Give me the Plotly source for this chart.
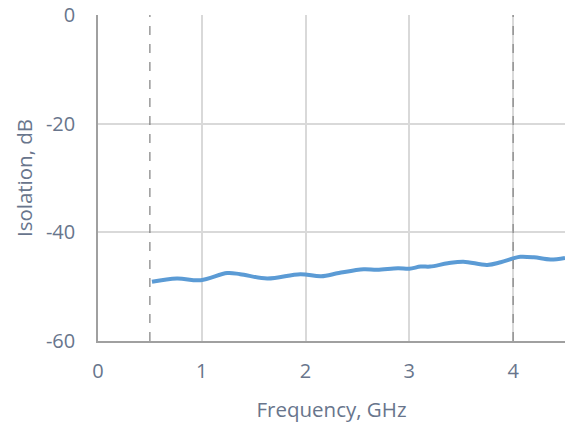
import plotly.graph_objects as go

freq_ghz = [0.52, 0.76, 0.99, 1.245, 1.37, 1.63, 1.95, 2.15, 2.32, 2.56, 2.69, 2.89,
            3.0, 3.11, 3.2, 3.37, 3.52, 3.75, 3.88, 4.0, 4.07, 4.2, 4.36, 4.5]
isolation_db = [-49.1, -48.5, -48.8, -47.5, -47.7, -48.5, -47.7, -48.1, -47.5, -46.8, -46.9, -46.6,
                -46.7, -46.3, -46.3, -45.7, -45.4, -46.0, -45.5, -44.8, -44.5, -44.6, -45.0, -44.7]
band_edges = [0.5, 4.0]
x_ticks = [0, 1, 2, 3, 4]
y_ticks = [0, -20, -40, -60]
y_tick_text = ["0", "-20", "-40", "-60"]

font_color = "#68758c"
fs = 20
fs_title = 20.5
fig = go.Figure()
fig.add_trace(go.Scatter(x=freq_ghz, y=isolation_db, mode="lines",
                         line=dict(color="#5b9bd5", width=4, shape="spline", smoothing=1.0),
                         showlegend=False, hoverinfo="skip"))
for e in band_edges:
    fig.add_shape(type="line", x0=e, x1=e, y0=-60, y1=0, xref="x", yref="y",
                  line=dict(color="#7f7f7f", width=1.2, dash="dash"), layer="above")

fig.update_layout(
    template="none",
    width=571, height=426,
    margin=dict(l=98, r=6, t=15, b=85, autoexpand=False),
    paper_bgcolor="white", plot_bgcolor="white",
    font=dict(family="Open Sans", size=fs, color=font_color),
)
fig.update_xaxes(range=[0, 4.5], tickvals=x_ticks, showgrid=True, gridcolor="#d9d9d9", gridwidth=1.5,
                 showline=True, linecolor="#a0a0a0", linewidth=1.5, zeroline=False,
                 ticks="", ticklabelstandoff=11, automargin=False, ticklabeloverflow="allow",
                 title=dict(text="Frequency, GHz", standoff=20,
                            font=dict(family="Open Sans", size=fs_title, color=font_color)),
                 tickfont=dict(family="Open Sans", size=fs, color=font_color))
fig.update_yaxes(range=[-60, 0], tickvals=y_ticks, ticktext=y_tick_text, showgrid=True,
                 gridcolor="#d9d9d9", gridwidth=1.5,
                 showline=True, linecolor="#a0a0a0", linewidth=1.5, zeroline=False,
                 ticks="", ticklabelstandoff=17, automargin=False, ticklabeloverflow="allow",
                 title=dict(text="Isolation, dB", standoff=8,
                            font=dict(family="Open Sans", size=fs_title, color=font_color)),
                 tickfont=dict(family="Open Sans", size=fs, color=font_color))
fig.write_html("out.html", config={"displayModeBar": False},
               post_script="document.body.style.margin='0';document.body.style.overflow='hidden';")
